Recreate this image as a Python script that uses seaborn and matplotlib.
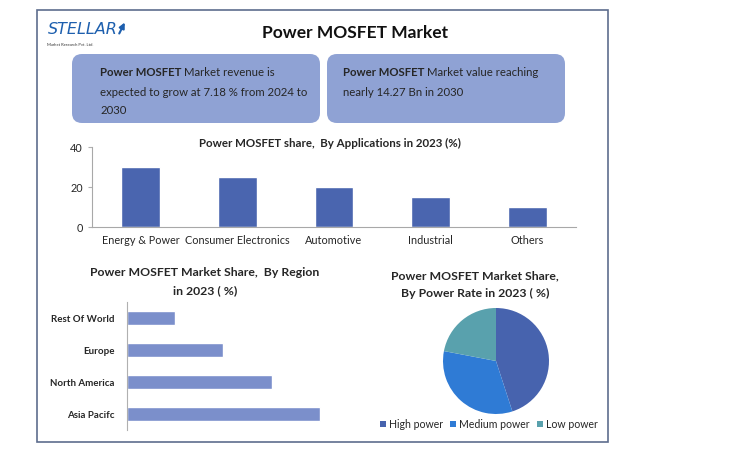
import numpy as np
import pandas as pd
import matplotlib
matplotlib.use("Agg")
import matplotlib.pyplot as plt
import seaborn as sns
from matplotlib.patches import FancyBboxPatch, Rectangle

applications = ["Energy & Power", "Consumer Electronics", "Automotive", "Industrial", "Others"]
app_share = [30, 25, 20, 15, 10]

regions = ["Rest Of World", "Europe", "North America", "Asia Pacifc"]
region_share = [10, 20, 30, 40]

power_rates = ["High power", "Medium power", "Low power"]
power_share = [45, 33, 22]

W, H = 752, 462

sns.set_style("white")
plt.rcParams["font.family"] = ["Lato", "DejaVu Sans"]

fig = plt.figure(figsize=(W / 100, H / 100), dpi=100)


def px_axes(x0, y0, x1, y1):
    """Axes from pixel box (top-left origin)."""
    ax = fig.add_axes([x0 / W, 1 - y1 / H, (x1 - x0) / W, (y1 - y0) / H])
    ax.patch.set_alpha(0)
    return ax


# background layer in pixel units
bg = fig.add_axes([0, 0, 1, 1], zorder=-1)
bg.set_xlim(0, W)
bg.set_ylim(H, 0)
bg.axis("off")
bg.add_patch(Rectangle((37, 10), 571, 432, fill=False, edgecolor="#5d6d8e", lw=1.2))

# logo
bg.text(48, 30, "STELLAR", fontsize=11.5, color="#1d5fae", style="italic",
        va="center", ha="left", family=["Liberation Sans Narrow", "DejaVu Sans"])
bg.annotate("", xy=(126, 20), xytext=(118, 36),
            arrowprops=dict(arrowstyle="-|>", color="#1d5fae", lw=1.5,
                            mutation_scale=8))
bg.text(47, 45, "Market Research Pvt. Ltd.", fontsize=3, color="#333333", va="center")

bg.text(355, 33, "Power MOSFET Market", fontsize=12.5, fontweight="bold",
        ha="center", va="center", color="#111111")

box_color = "#8fa2d4"
bg.add_patch(FancyBboxPatch((72, 54), 248, 69, boxstyle="round,pad=0,rounding_size=10",
                            facecolor=box_color, edgecolor="none"))
bg.add_patch(FancyBboxPatch((327, 54), 238, 69, boxstyle="round,pad=0,rounding_size=10",
                            facecolor=box_color, edgecolor="none"))

fig.canvas.draw()
renderer = fig.canvas.get_renderer()


def mixed_line(x, y, bold, rest, size=8.2):
    t = bg.text(x, y, bold, fontsize=size, fontweight="bold", va="center", ha="left")
    bb = t.get_window_extent(renderer=renderer)
    x_end = bb.x1 * W / fig.bbox.width
    bg.text(x_end + 3, y, rest, fontsize=size, va="center", ha="left")


mixed_line(100, 73, "Power MOSFET", "Market revenue is")
bg.text(100, 92, "expected to grow at 7.18 % from 2024 to", fontsize=8.2, va="center")
bg.text(100, 110, "2030", fontsize=8.2, va="center")
mixed_line(343, 73, "Power MOSFET", "Market value reaching")
bg.text(343, 92, "nearly 14.27 Bn in 2030", fontsize=8.2, va="center")

# applications bar chart
ax1 = px_axes(92, 147, 576, 227)
df_app = pd.DataFrame({"app": applications, "share": app_share})
sns.barplot(data=df_app, x="app", y="share", color="#4a65af", saturation=1,
            width=0.4, ax=ax1)
ax1.set_ylim(0, 40)
ax1.set_yticks([0, 20, 40])
ax1.set_xlim(-0.5, 4.5)
ax1.set_xlabel("")
ax1.set_ylabel("")
ax1.set_xticks(np.arange(-0.5, 5, 1), minor=True)
ax1.tick_params(axis="x", which="major", length=0, labelsize=7.8, pad=6)
ax1.tick_params(axis="x", which="minor", length=4, color="#b0b0b0", direction="out")
ax1.tick_params(axis="y", length=3, color="#b0b0b0", labelsize=7.8, left=True)
for s in ["top", "right"]:
    ax1.spines[s].set_visible(False)
for s in ["left", "bottom"]:
    ax1.spines[s].set_color("#a8a8a8")
    ax1.spines[s].set_linewidth(0.8)
bg.text(330, 143, "Power MOSFET share,  By Applications in 2023 (%)", fontsize=8.3,
        fontweight="bold", ha="center", va="center")

# region horizontal bars
ax2 = px_axes(127, 302, 344, 430)
df_reg = pd.DataFrame({"region": regions, "share": region_share})
sns.barplot(data=df_reg, y="region", x="share", color="#7b8fcb", saturation=1,
            width=0.42, orient="h", ax=ax2)
ax2.set_xlim(0, 45)
ax2.set_ylim(3.5, -0.5)
ax2.set_xlabel("")
ax2.set_ylabel("")
ax2.set_xticks([])
ax2.set_yticks(np.arange(-0.5, 4, 1), minor=True)
ax2.tick_params(axis="y", which="major", length=0, labelsize=7, pad=9)
ax2.tick_params(axis="y", which="minor", length=4, color="#b0b0b0", direction="out")
for lab in ax2.get_yticklabels():
    lab.set_fontweight("bold")
for s in ["top", "right", "bottom"]:
    ax2.spines[s].set_visible(False)
ax2.spines["left"].set_color("#b0b0b0")
ax2.spines["left"].set_linewidth(0.8)
bg.text(205, 273, "Power MOSFET Market Share,  By Region", fontsize=8.8,
        fontweight="bold", ha="center", va="center")
bg.text(205, 291, "in 2023 ( %)", fontsize=8.8, fontweight="bold", ha="center", va="center")

# power rate pie
pie_colors = ["#4763ae", "#2f7bd5", "#59a1ad"]
ax3 = px_axes(443, 308, 549, 414)
wedges, _ = ax3.pie(power_share, colors=pie_colors, startangle=90, counterclock=False,
                    wedgeprops=dict(linewidth=0))
ax3.set_xlim(-1, 1)
ax3.set_ylim(-1, 1)
ax3.set_aspect("equal")
bg.text(475, 276, "Power MOSFET Market Share,", fontsize=8.8, fontweight="bold",
        ha="center", va="center")
bg.text(475, 293, "By Power Rate in 2023 ( %)", fontsize=8.8, fontweight="bold",
        ha="center", va="center")
fig.legend(wedges, power_rates, loc="center", bbox_to_anchor=(489 / W, 1 - 424 / H),
           ncol=3, frameon=False, fontsize=7.6, handlelength=0.55, handleheight=0.55,
           handletextpad=0.3, columnspacing=0.7)

fig.savefig("out.png", dpi=100)
